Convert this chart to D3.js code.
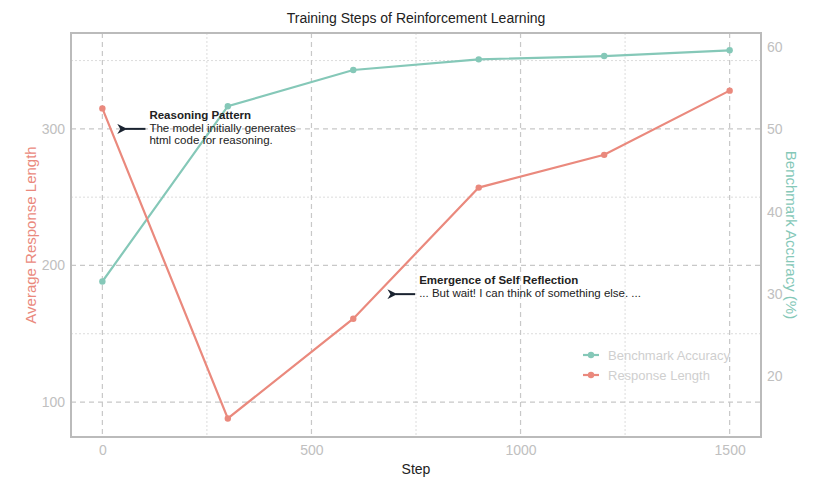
<!DOCTYPE html>
<html>
<head>
<meta charset="utf-8">
<script src="https://cdn.jsdelivr.net/npm/d3@7"></script>
<style>
  body { margin: 0; background: #fff; }
  text { font-family: "Liberation Sans", Arial, sans-serif; }
</style>
</head>
<body>
<div id="chart"></div>
<script>
// Data
const steps = [0, 300, 600, 900, 1200, 1500];
const responseLength = [315, 88, 161, 257, 281, 328];
const benchmarkAccuracy = [31.5, 52.8, 57.2, 58.5, 58.9, 59.6];
const xTicks = [0, 500, 1000, 1500];
const xMinorTicks = [250, 750, 1250];
const leftTicks = [100, 200, 300];
const leftMinorTicks = [150, 250, 350];
const rightTicks = [20, 30, 40, 50, 60];

const width = 831, height = 494;
const margin = { top: 33, right: 70, bottom: 57, left: 71 };
const innerW = width - margin.left - margin.right;
const innerH = height - margin.top - margin.bottom;

const redColor = "#ea897d";
const tealColor = "#85c8b8";

const svg = d3.select("#chart")
    .append("svg")
    .attr("width", width)
    .attr("height", height);

const g = svg.append("g")
    .attr("transform", `translate(${margin.left},${margin.top})`);

// Scales
const x = d3.scaleLinear().domain([-75, 1575]).range([0, innerW]);
const yLeft = d3.scaleLinear().domain([74.4, 370.2]).range([innerH, 0]);
const yRight = d3.scaleLinear().domain([12.6, 61.7]).range([innerH, 0]);

// Minor grid (dotted)
g.selectAll(".xminor")
    .data(xMinorTicks)
    .enter().append("line")
    .attr("x1", d => x(d)).attr("x2", d => x(d))
    .attr("y1", 0).attr("y2", innerH)
    .attr("stroke", "#dcdcdc").attr("stroke-width", 1)
    .attr("stroke-dasharray", "2,2");

g.selectAll(".yminor")
    .data(leftMinorTicks)
    .enter().append("line")
    .attr("x1", 0).attr("x2", innerW)
    .attr("y1", d => yLeft(d)).attr("y2", d => yLeft(d))
    .attr("stroke", "#dcdcdc").attr("stroke-width", 1)
    .attr("stroke-dasharray", "2,2");

// Major grid (dashed)
g.selectAll(".xmajor")
    .data(xTicks)
    .enter().append("line")
    .attr("x1", d => x(d)).attr("x2", d => x(d))
    .attr("y1", 0).attr("y2", innerH)
    .attr("stroke", "#c8c8c8").attr("stroke-width", 1.2)
    .attr("stroke-dasharray", "5,4");

g.selectAll(".ymajor")
    .data(leftTicks)
    .enter().append("line")
    .attr("x1", 0).attr("x2", innerW)
    .attr("y1", d => yLeft(d)).attr("y2", d => yLeft(d))
    .attr("stroke", "#c8c8c8").attr("stroke-width", 1.2)
    .attr("stroke-dasharray", "5,4");

// Axes (labels only, no tick marks)
const xAxis = g.append("g")
    .attr("transform", `translate(0,${innerH})`)
    .call(d3.axisBottom(x).tickValues(xTicks).tickFormat(d3.format("d")).tickSize(0).tickPadding(8));

const leftAxis = g.append("g")
    .call(d3.axisLeft(yLeft).tickValues(leftTicks).tickSize(0).tickPadding(6));

const rightAxis = g.append("g")
    .attr("transform", `translate(${innerW},0)`)
    .call(d3.axisRight(yRight).tickValues(rightTicks).tickSize(0).tickPadding(6));

[xAxis, leftAxis, rightAxis].forEach(a => {
    a.select(".domain").remove();
    a.selectAll("text")
        .attr("fill", "#c0c0c0")
        .style("font-size", "14px");
});

// Lines
const lineRed = d3.line().x((d, i) => x(steps[i])).y(d => yLeft(d));
const lineTeal = d3.line().x((d, i) => x(steps[i])).y(d => yRight(d));

g.append("path")
    .datum(benchmarkAccuracy)
    .attr("d", lineTeal)
    .attr("fill", "none")
    .attr("stroke", tealColor)
    .attr("stroke-width", 2.2);

g.selectAll(".tealdot")
    .data(benchmarkAccuracy)
    .enter().append("circle")
    .attr("cx", (d, i) => x(steps[i]))
    .attr("cy", d => yRight(d))
    .attr("r", 3.2)
    .attr("fill", tealColor);

g.append("path")
    .datum(responseLength)
    .attr("d", lineRed)
    .attr("fill", "none")
    .attr("stroke", redColor)
    .attr("stroke-width", 2.2);

g.selectAll(".reddot")
    .data(responseLength)
    .enter().append("circle")
    .attr("cx", (d, i) => x(steps[i]))
    .attr("cy", d => yLeft(d))
    .attr("r", 3.2)
    .attr("fill", redColor);

// Frame
g.append("rect")
    .attr("width", innerW)
    .attr("height", innerH)
    .attr("fill", "none")
    .attr("stroke", "#bbbbbb")
    .attr("stroke-width", 2);

// Annotations
const annotations = [
    { step: 50, value: 300, tail: 103, title: "Reasoning Pattern",
      lines: ["The model initially generates", "html code for reasoning."] },
    { step: 696, value: 179, tail: 748, title: "Emergence of Self Reflection",
      lines: ["... But wait! I can think of something else. ..."] }
];

svg.append("defs").append("marker")
    .attr("id", "arrowhead")
    .attr("viewBox", "0 0 10 10")
    .attr("refX", 2).attr("refY", 5)
    .attr("markerWidth", 5).attr("markerHeight", 5)
    .attr("orient", "auto-start-reverse")
    .append("path")
    .attr("d", "M0,5 L10,0 L7,5 L10,10 Z")
    .attr("fill", "#1a2330");

annotations.forEach(a => {
    const yy = yLeft(a.value);
    g.append("line")
        .attr("x1", x(a.tail)).attr("x2", x(a.step) + 2)
        .attr("y1", yy).attr("y2", yy)
        .attr("stroke", "#1a2330")
        .attr("stroke-width", 2)
        .attr("marker-end", "url(#arrowhead)");

    const t = g.append("text")
        .attr("x", x(a.tail) + 4)
        .attr("y", yy - 10)
        .attr("fill", "#222")
        .style("font-size", "11.5px");
    t.append("tspan")
        .attr("x", x(a.tail) + 4)
        .attr("font-weight", "bold")
        .text(a.title);
    a.lines.forEach(l => {
        t.append("tspan")
            .attr("x", x(a.tail) + 4)
            .attr("dy", "1.1em")
            .text(l);
    });
});

// Legend
const legendItems = [
    { label: "Benchmark Accuracy", color: tealColor },
    { label: "Response Length", color: redColor }
];
const legend = g.selectAll(".legend")
    .data(legendItems)
    .enter().append("g")
    .attr("transform", (d, i) => `translate(${512},${322 + i * 20})`);

legend.append("line")
    .attr("x1", 0).attr("x2", 16)
    .attr("stroke", d => d.color)
    .attr("stroke-width", 2.2);
legend.append("circle")
    .attr("cx", 8).attr("r", 3.2)
    .attr("fill", d => d.color);
legend.append("text")
    .attr("x", 25)
    .attr("dy", "0.35em")
    .attr("fill", "#cfcfcf")
    .style("font-size", "13px")
    .text(d => d.label);

// Titles
svg.append("text")
    .attr("x", margin.left + innerW / 2)
    .attr("y", 23)
    .attr("text-anchor", "middle")
    .attr("fill", "#222")
    .style("font-size", "14px")
    .text("Training Steps of Reinforcement Learning");

svg.append("text")
    .attr("x", margin.left + innerW / 2)
    .attr("y", 474)
    .attr("text-anchor", "middle")
    .attr("fill", "#222")
    .style("font-size", "14px")
    .text("Step");

svg.append("text")
    .attr("transform", `translate(36,${margin.top + innerH / 2}) rotate(-90)`)
    .attr("text-anchor", "middle")
    .attr("fill", redColor)
    .style("font-size", "15px")
    .text("Average Response Length");

svg.append("text")
    .attr("transform", `translate(786,${margin.top + innerH / 2}) rotate(90)`)
    .attr("text-anchor", "middle")
    .attr("fill", tealColor)
    .style("font-size", "15px")
    .text("Benchmark Accuracy (%)");
</script>
</body>
</html>
